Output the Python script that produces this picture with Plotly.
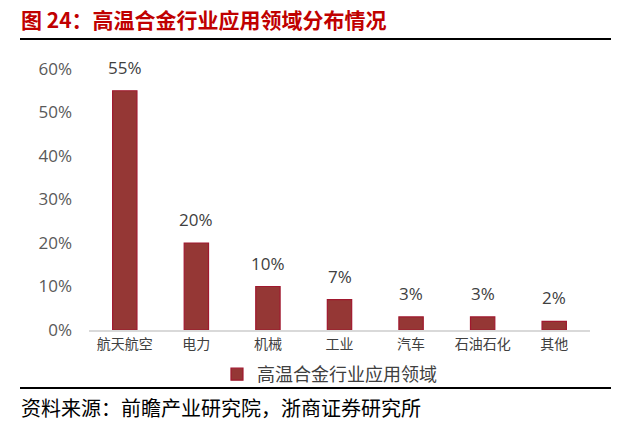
import plotly.graph_objects as go

categories = ["航天航空", "电力", "机械", "工业", "汽车", "石油石化", "其他"]
values = [0.55, 0.20, 0.10, 0.07, 0.03, 0.03, 0.02]
value_labels = ["55%", "20%", "10%", "7%", "3%", "3%", "2%"]
series_name = "高温合金行业应用领域"
title_text = "图 24：高温合金行业应用领域分布情况"
source_text = "资料来源：前瞻产业研究院，浙商证券研究所"
tick_vals = [0, 0.1, 0.2, 0.3, 0.4, 0.5, 0.6]
tick_text = ["0%", "10%", "20%", "30%", "40%", "50%", "60%"]

CJK = "Noto Sans CJK SC"

fig = go.Figure()
fig.add_trace(go.Bar(
    x=categories, y=values, name=series_name,
    marker=dict(color="#953735", line=dict(color="#A0182E", width=1.2)),
    showlegend=True,
))

for c, v, t in zip(categories, values, value_labels):
    fig.add_annotation(x=c, y=v, text=t, showarrow=False, yanchor="bottom", yshift=10,
                       font=dict(family="Open Sans, Arial", size=17, color="#404040"))

W, H = 618, 431
ml, mr, mt, mb = 89, 28, 69, 101
pw = W - ml - mr
ph = H - mt - mb

def px(x):
    return (x - ml) / pw

def py(y):
    return (H - mb - y) / ph

fig.add_annotation(xref="paper", yref="paper", x=px(19), y=py(19), xanchor="left", yanchor="middle",
                   text="<b>" + title_text + "</b>", showarrow=False,
                   font=dict(family=CJK, size=21, color="#C00000"))
fig.add_annotation(xref="paper", yref="paper", x=px(19), y=py(407), xanchor="left", yanchor="middle",
                   text=source_text, showarrow=False,
                   font=dict(family=CJK, size=20, color="#000000"))
fig.add_shape(type="rect", xref="paper", yref="paper", x0=px(20), x1=px(611), y0=py(40), y1=py(38),
              line=dict(width=0), fillcolor="#000000", layer="above")
fig.add_shape(type="rect", xref="paper", yref="paper", x0=px(20), x1=px(611), y0=py(389), y1=py(387),
              line=dict(width=0), fillcolor="#000000", layer="above")

fig.update_layout(
    width=W, height=H,
    margin=dict(l=ml, r=mr, t=mt, b=mb),
    paper_bgcolor="white", plot_bgcolor="white",
    bargap=0.66,
    showlegend=True,
    legend=dict(orientation="h", x=0.48, xanchor="center", y=py(356), yanchor="top",
                bgcolor="rgba(255,255,255,0)",
                font=dict(family=CJK, size=18, color="#404040"), itemwidth=30),
    xaxis=dict(showline=True, linecolor="#D9D9D9", linewidth=1.5, ticks="",
               tickfont=dict(family=CJK, size=14, color="#404040"), showgrid=False),
    yaxis=dict(range=[0, 0.6], tickvals=tick_vals, ticktext=tick_text, showgrid=False,
               zeroline=False, showline=False, ticks="", ticklabelstandoff=16,
               tickfont=dict(family="Open Sans, Arial", size=17, color="#595959")),
)

fig.write_html("out.html")
